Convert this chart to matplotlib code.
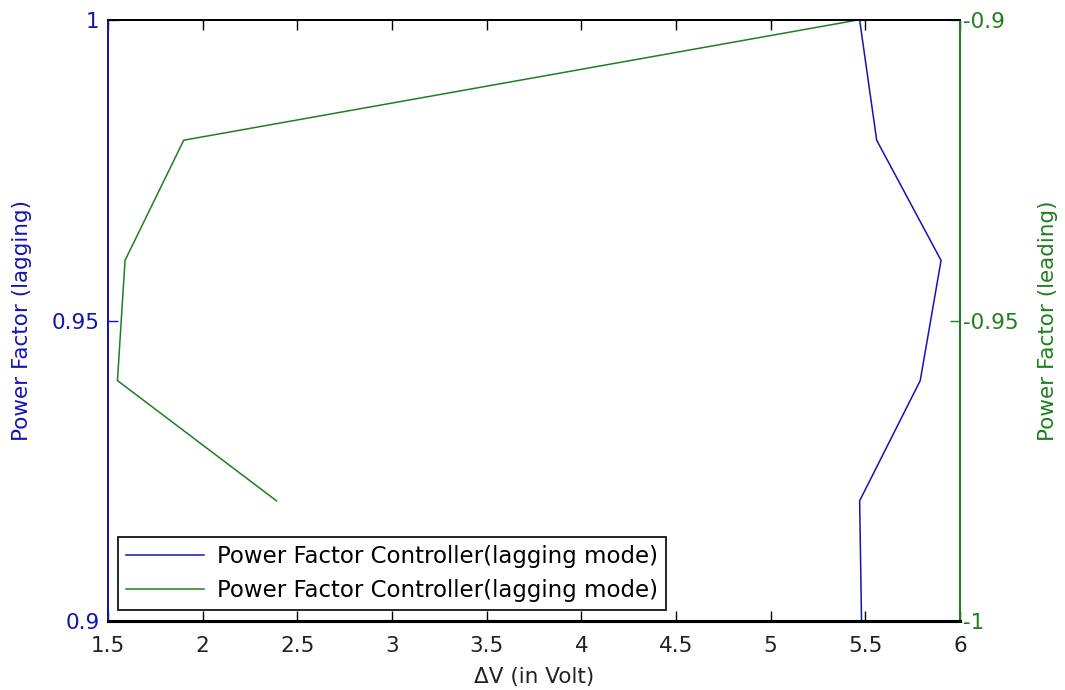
import numpy as np
from matplotlib import pyplot as plt

plt.rcParams['font.family'] = ['DejaVu Sans']

# lagging mode: left axis
lag_pf = [0.90, 0.92, 0.94, 0.96, 0.98, 1.00]
lag_dv = [5.48, 5.47, 5.79, 5.90, 5.56, 5.47]

# second controller: right axis (leading)
lead_pf = [-0.98, -0.96, -0.94, -0.92, -0.90]
lead_dv = [2.39, 1.55, 1.59, 1.90, 5.46]

label = 'Power Factor Controller(lagging mode)'
blue = '#1414b4'
green = '#1f7f1f'
fs = 15.5

fig = plt.figure(figsize=(10.65, 6.9), dpi=100)
ax = fig.add_axes([0.1014, 0.1, 0.80, 0.871])
ax2 = ax.twinx()

l1, = ax.plot(lag_dv, lag_pf, color=blue, lw=1.1)
l2, = ax2.plot(lead_dv, lead_pf, color=green, lw=1.1)

ax.set_xlim(1.5, 6)
ax.set_ylim(0.9, 1.0)
ax2.set_ylim(-1, -0.9)

ax.set_xticks(np.arange(1.5, 6.01, 0.5))
ax.set_xticklabels(['1.5', '2', '2.5', '3', '3.5', '4', '4.5', '5', '5.5', '6'])
ax.set_yticks([0.9, 0.95, 1.0])
ax.set_yticklabels(['0.9', '0.95', '1'])
ax2.set_yticks([-1, -0.95, -0.9])
ax2.set_yticklabels(['-1', '-0.95', '-0.9'])

ax.tick_params(axis='x', direction='in', top=True, length=7, width=1,
               labelsize=fs, pad=11, colors='black', labelcolor='#222222')
ax.tick_params(axis='y', direction='in', length=7, width=1, labelsize=fs,
               colors=blue, pad=6)
ax2.tick_params(axis='y', direction='in', length=7, width=1, labelsize=fs,
                colors=green, pad=2)

for a in (ax, ax2):
    a.spines['left'].set_color(blue)
    a.spines['right'].set_color(green)
    a.spines['top'].set_color('black')
    a.spines['bottom'].set_color('black')
    a.spines['bottom'].set_linewidth(2.2)
    a.spines['top'].set_linewidth(1.4)
    a.spines['left'].set_linewidth(1.4)
    a.spines['right'].set_linewidth(1.4)

ax.set_xlabel('ΔV (in Volt)', fontsize=fs, color='#222222', labelpad=8)
ax.set_ylabel('Power Factor (lagging)', fontsize=fs, color=blue, labelpad=14)
ax2.set_ylabel('Power Factor (leading)', fontsize=fs, color=green, labelpad=14)

leg = ax2.legend([l1, l2], [label, label], loc='lower left',
                 bbox_to_anchor=(0.012, 0.018), borderaxespad=0,
                 fontsize=16.5, frameon=True,
                 fancybox=False, edgecolor='black', framealpha=1,
                 handlelength=3.4, handletextpad=0.55, borderpad=0.35,
                 labelspacing=0.5)
leg.get_frame().set_linewidth(1.2)

fig.savefig('out.png', dpi=100)
